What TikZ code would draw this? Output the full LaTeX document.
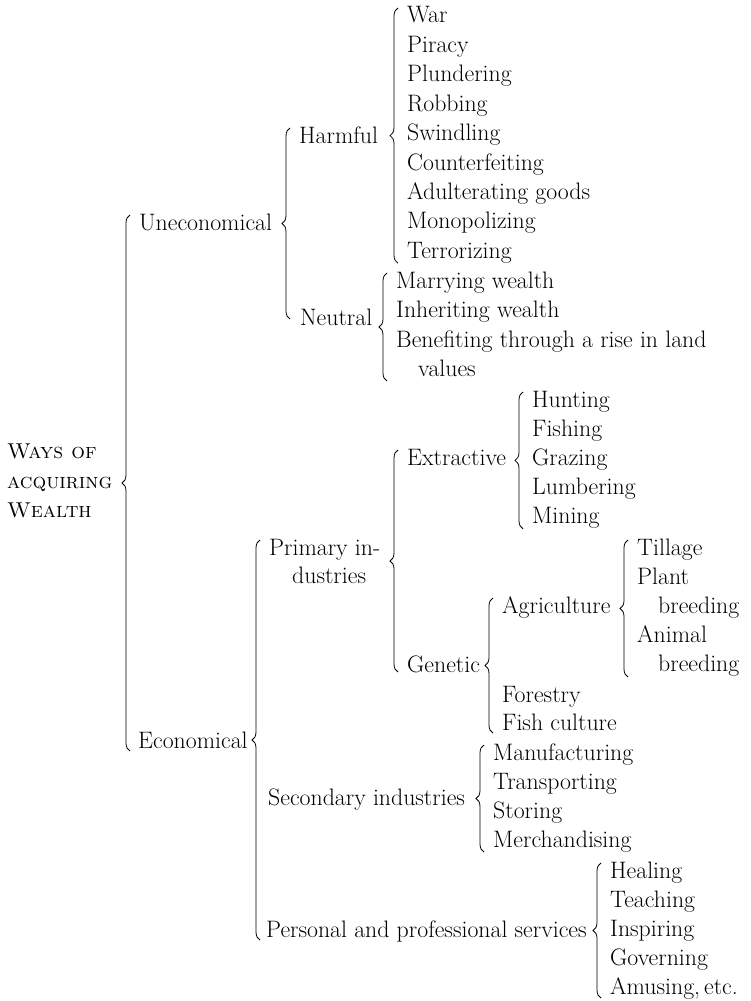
\documentclass[tikz,border=0pt]{standalone}
\usepackage{tikz}
\usetikzlibrary{calc,decorations.pathreplacing}
\tikzset{
  node-item/.style={anchor=base west,inner sep=0pt,font=\fontsize{23.8}{28}\selectfont},
  node-root/.style={anchor=west,inner sep=0pt,align=left,font=\fontsize{21.5}{29.5}\selectfont},
  brace-line/.style={decorate,decoration={brace,amplitude=8pt},line width=0.8pt},
}
% brace in front of a group, from its first to its last node
\newcommand{\grp}[3][5]{%
  \draw[brace-line] ($(#2.west|-#3.base)+(-9,#1)$) -- ($(#2.base west)+(-9,-15)$);}

\begin{document}
\begin{tikzpicture}[x=1pt,y=-1pt]
  \useasboundingbox (0,0) rectangle (750,1001);
  \node[node-root] (root) at (7,481) {\textsc{Ways of}\\\textsc{acquiring}\\\textsc{Wealth}};
  \node[node-item] (unec) at (139,230) {Uneconomical};
  \node[node-item] (econ) at (138,748) {Economical};
  \grp[3]{unec}{econ}
  % uneconomical
  \node[node-item] (harm) at (299,143) {Harmful};
  \node[node-item] (neut) at (300,325) {Neutral};
  \grp[-6]{harm}{neut}
  \foreach \nm/\txt [count=\i from 0] in {war/War,piracy/Piracy,plund/Plundering,rob/Robbing,
      swind/Swindling,cfeit/Counterfeiting,adult/Adulterating goods,monop/Monopolizing,terror/Terrorizing}
    \node[node-item] (\nm) at (407,23+29.4*\i) {\txt};
  \grp{war}{terror}
  \node[node-item] (marry) at (396,288) {Marrying wealth};
  \node[node-item] (inher) at (396,317.5) {Inheriting wealth};
  \node[node-item] (benef) at (396,347) {Benefiting through a rise in land};
  \node[node-item] (values) at (418,376) {values};
  \grp{marry}{values}
  % economical
  \node[node-item] (prim) at (269,555) {Primary in-};
  \node[node-item] (prim2) at (292,583) {dustries};
  \node[node-item] (sec) at (268,805) {Secondary industries};
  \node[node-item] (pers) at (266,937) {Personal and professional services};
  \grp[3]{prim}{pers}
  \node[node-item] (extr) at (407,465) {Extractive};
  \node[node-item] (genet) at (407,672) {Genetic};
  \grp[0]{extr}{genet}
  \foreach \nm/\txt [count=\i from 0] in {hunt/Hunting,fish/Fishing,graz/Grazing,lumb/Lumbering,mining/Mining}
    \node[node-item] (\nm) at (532,407+29.2*\i) {\txt};
  \grp{hunt}{mining}
  \node[node-item] (agri) at (502,613) {Agriculture};
  \node[node-item] (forest) at (502,702) {Forestry};
  \node[node-item] (fishcult) at (502,730) {Fish culture};
  \grp[3]{agri}{fishcult}
  \node[node-item] (till) at (637,555) {Tillage};
  \node[node-item] (plant) at (637,584) {Plant};
  \node[node-item] (breed1) at (658,613) {breeding};
  \node[node-item] (animal) at (637,642) {Animal};
  \node[node-item] (breed2) at (658,671) {breeding};
  \grp[6]{till}{breed2}
  \foreach \nm/\txt [count=\i from 0] in {manuf/Manufacturing,transp/Transporting,stor/Storing,merch/Merchandising}
    \node[node-item] (\nm) at (493,760+29*\i) {\txt};
  \grp{manuf}{merch}
  \foreach \nm/\txt [count=\i from 0] in {heal/Healing,teach/Teaching,insp/Inspiring,gov/Governing,amuse/{Amusing,\,etc.}}
    \node[node-item] (\nm) at (610,878+29*\i) {\txt};
  \grp[4]{heal}{amuse}
\end{tikzpicture}
\end{document}
